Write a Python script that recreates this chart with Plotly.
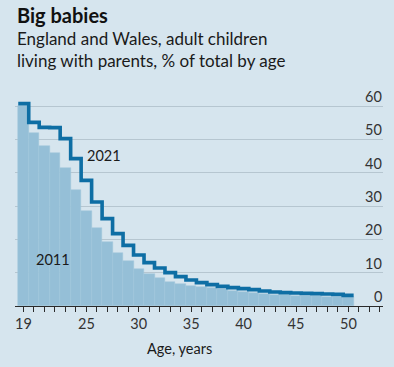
import plotly.graph_objects as go

ages = list(range(19, 51))
share_2011 = [59.9, 51.8, 47.9, 46.0, 41.5, 34.9, 28.6, 23.5, 19.3, 15.9, 13.5, 11.2,
              9.6, 8.3, 7.1, 6.5, 5.9, 5.6, 5.3, 5.0, 4.5, 4.2, 3.9, 3.6, 3.4, 3.2,
              3.1, 3.0, 2.9, 2.8, 2.7, 2.6]
share_2021 = [60.7, 55.1, 53.6, 53.5, 50.2, 44.2, 37.7, 31.2, 26.2, 21.7, 18.2, 15.3,
              13.0, 11.4, 10.0, 8.8, 7.8, 7.0, 6.4, 5.9, 5.5, 5.2, 4.9, 4.5, 4.2, 4.0,
              3.9, 3.8, 3.7, 3.6, 3.5, 3.2]
x_ticks = [19, 25, 30, 35, 40, 45, 50]
y_ticks = [0, 10, 20, 30, 40, 50, 60]

BG = "#d6e5ee"
FILL = "#95bfd7"
LINE = "#0e6ea4"
GRID = "#b6c6d0"
TXT = "#1a1a1a"
FONT = "Lato"

edges = [a - 0.5 for a in ages] + [ages[-1] + 0.5]
line_y = share_2021 + [share_2021[-1]]

fig = go.Figure()
fig.add_trace(go.Bar(x=ages, y=share_2011, width=1,
                     marker=dict(color=FILL, line=dict(color="#a2c7dc", width=0.5)),
                     showlegend=False, hoverinfo="skip"))
fig.add_trace(go.Scatter(x=edges, y=line_y, mode="lines", line_shape="hv",
                         line=dict(color=LINE, width=3.6), showlegend=False,
                         hoverinfo="skip"))

annotations = [
    dict(text="<b>Big babies</b>", xref="paper", yref="paper", x=0, y=1.423,
         xanchor="left", yanchor="top", showarrow=False,
         font=dict(size=20, color="#111111", family=FONT)),
    dict(text="England and Wales, adult children",
         xref="paper", yref="paper", x=0, y=1.2477, xanchor="left", yanchor="middle",
         align="left", showarrow=False, font=dict(size=17, color=TXT, family=FONT)),
    dict(text="living with parents, % of total by age",
         xref="paper", yref="paper", x=0, y=1.1449, xanchor="left", yanchor="middle",
         align="left", showarrow=False, font=dict(size=17, color=TXT, family=FONT)),
    dict(text="2021", xref="x", yref="y", x=26.68, y=45.2, showarrow=False,
         font=dict(size=14.5, color=TXT)),
    dict(text="2011", xref="x", yref="y", x=21.86, y=14.0, showarrow=False,
         font=dict(size=14.5, color=TXT)),
    dict(text="Age, years", xref="x", yref="paper", x=33.93, y=-0.2,
         yanchor="middle", showarrow=False, font=dict(size=14.5, color=TXT)),
]
for v in y_ticks:
    annotations.append(dict(text=str(v), xref="paper", yref="y", x=1.003, y=v,
                            xanchor="right", yanchor="bottom", showarrow=False,
                            yshift=-1, font=dict(size=14.5, color="#333333")))

fig.update_layout(
    width=394, height=367,
    margin=dict(l=15, r=11, t=92, b=61, autoexpand=False),
    paper_bgcolor=BG, plot_bgcolor=BG,
    font=dict(family=FONT, color=TXT, size=14.5),
    bargap=0,
    xaxis=dict(range=[18.19, 53.3], tickvals=x_ticks, ticktext=[str(t) for t in x_ticks],
               automargin=False,
               showgrid=False, zeroline=False, showline=True, linecolor="#2a2a2a",
               linewidth=1, ticks="outside", ticklen=5, tickcolor="#2a2a2a",
               tickfont=dict(size=14.5, color="#333333"),
               minor=dict(dtick=1, tick0=19, ticks="outside", ticklen=5,
                          tickcolor="#2a2a2a", showgrid=False)),
    yaxis=dict(range=[0, 64.2], tickvals=y_ticks, side="right", automargin=False,
               showticklabels=False, showgrid=True, gridcolor=GRID,
               gridwidth=1.2, zeroline=False, showline=False, ticks=""),
    annotations=annotations,
)

fig.write_html("out.html", config={"displayModeBar": False},
               post_script="document.body.style.margin='0';document.body.style.overflow='hidden';document.body.style.background='" + BG + "';")
